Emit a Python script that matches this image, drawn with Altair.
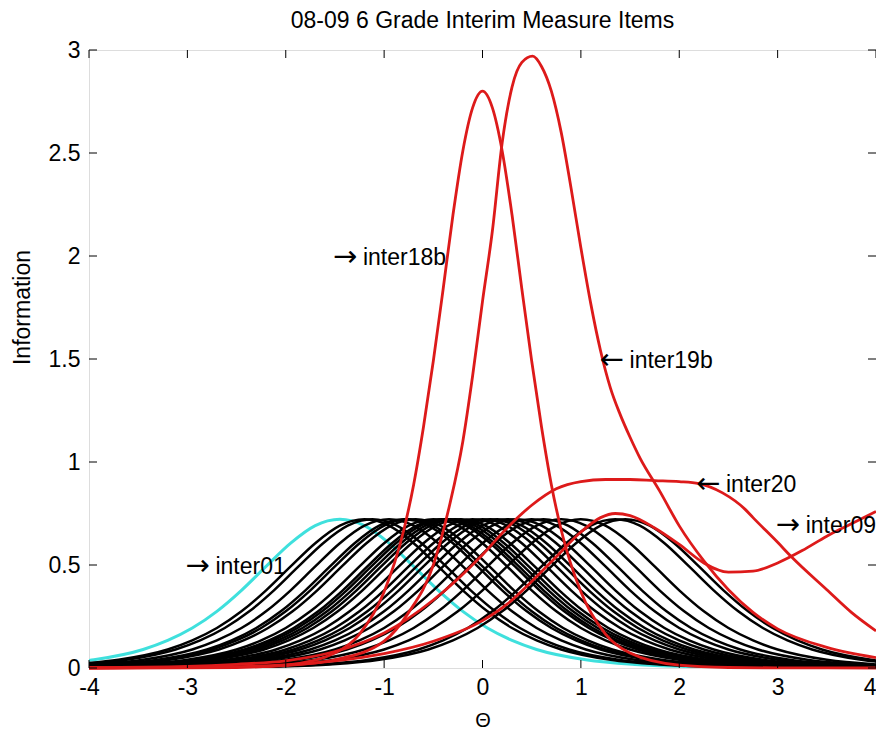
import altair as alt
import pandas as pd

# ---------------- data ----------------
X_TICKS = [-4, -3, -2, -1, 0, 1, 2, 3, 4]
Y_TICKS = [0, 0.5, 1, 1.5, 2, 2.5, 3]

# shape of a single black / cyan item-information curve
BELL_OFFSETS = [-6, -5, -4, -3.5, -3, -2.5, -2, -1.75, -1.5, -1.25, -1, -0.75, -0.5, -0.25, -0.125,
                0, 0.125, 0.25, 0.5, 0.75, 1, 1.25, 1.5, 1.75, 2, 2.5, 3, 3.5, 4, 5, 6]
BELL_INFO = [0.0001, 0.0006, 0.0032, 0.0075, 0.0175, 0.040, 0.090, 0.134, 0.194, 0.275, 0.377, 0.493, 0.606, 0.691, 0.714,
             0.7225, 0.714, 0.691, 0.606, 0.493, 0.377, 0.275, 0.194, 0.134, 0.090, 0.040, 0.0175, 0.0075, 0.0032, 0.0006, 0.0001]

# peak locations of the black curves
BLACK_CENTERS = [-1.2, -1.12, -0.95, -0.8, -0.75, -0.68, -0.5, -0.42, -0.38, -0.33, -0.28, -0.22,
                 -0.1, 0.0, 0.08, 0.15, 0.25, 0.35, 0.5, 0.62, 0.8, 1.0, 1.35, 1.45]
CYAN_CENTER = -1.45

I18B_X = [-4, -3, -2.5, -2, -1.5, -1.25, -1.0, -0.8, -0.7, -0.6, -0.5, -0.4, -0.3, -0.2, -0.1, 0,
          0.1, 0.2, 0.3, 0.4, 0.5, 0.6, 0.7, 0.8, 1.0, 1.25, 1.5, 2, 2.5, 3, 4]
I18B_Y = [0.0, 0.0005, 0.0025, 0.014, 0.073, 0.165, 0.37, 0.67, 0.89, 1.17, 1.49, 1.84, 2.20, 2.51, 2.72, 2.80,
          2.72, 2.51, 2.20, 1.84, 1.49, 1.17, 0.89, 0.67, 0.37, 0.165, 0.073, 0.014, 0.0025, 0.0005, 0.0]

I19B_X = [-4, -3, -2.5, -2, -1.5, -1.0, -0.75, -0.5, -0.33, -0.2, -0.1, 0.0, 0.1, 0.2, 0.3, 0.4, 0.51,
          0.6, 0.7, 0.8, 0.9, 1.0, 1.1, 1.2, 1.3, 1.4, 1.5, 1.6, 1.8, 2.0, 2.25, 2.5, 2.75, 3.0, 3.5, 4.0]
I19B_Y = [0.0, 0.002, 0.005, 0.012, 0.04, 0.13, 0.27, 0.5, 0.8, 1.1, 1.42, 1.78, 2.12, 2.55, 2.82, 2.94, 2.97,
          2.92, 2.8, 2.6, 2.33, 2.04, 1.77, 1.54, 1.36, 1.23, 1.12, 1.02, 0.86, 0.69, 0.52, 0.38, 0.27, 0.19, 0.1, 0.05]

I20_X = [-4, -3, -2.5, -2, -1.5, -1.0, -0.5, 0.0, 0.25, 0.5, 0.75, 1.0, 1.25, 1.5, 1.75, 2.0, 2.2,
         2.44, 2.67, 2.75, 3.0, 3.14, 3.5, 3.75, 4.0]
I20_Y = [0.002, 0.008, 0.018, 0.035, 0.08, 0.17, 0.33, 0.55, 0.68, 0.79, 0.87, 0.905, 0.915, 0.915, 0.91, 0.905, 0.895,
         0.85, 0.77, 0.73, 0.61, 0.54, 0.38, 0.27, 0.18]

I09_X = [-4, -3, -2, -1.5, -1.0, -0.5, 0.0, 0.25, 0.5, 0.75, 1.0, 1.2, 1.35, 1.5, 1.75, 2.0, 2.25,
         2.5, 2.75, 3.0, 3.25, 3.5, 3.75, 4.0]
I09_Y = [0.0, 0.003, 0.015, 0.035, 0.07, 0.13, 0.23, 0.31, 0.42, 0.54, 0.66, 0.73, 0.75, 0.74, 0.68, 0.6, 0.51,
         0.465, 0.47, 0.51, 0.57, 0.64, 0.7, 0.76]

LABEL_ARROWS = ["\u2192", "\u2192", "\u2190", "\u2190", "\u2192"]
LABEL_NAMES = ["inter01", "inter18b", "inter19b", "inter20", "inter09"]
LABEL_X = [-3.02, -1.52, 1.19, 2.17, 2.98]
LABEL_Y = [0.49, 1.99, 1.49, 0.89, 0.69]

TITLE = "08-09 6 Grade Interim Measure Items"

# ---------------- build tables ----------------
rows = []
for i, c in enumerate(BLACK_CENTERS):
    for o, v in zip(BELL_OFFSETS, BELL_INFO):
        rows.append({"x": round(c + o, 4), "y": v, "curve": f"b{i}"})
black_df = pd.DataFrame(rows)

cyan_df = pd.DataFrame({"x": [round(CYAN_CENTER + o, 4) for o in BELL_OFFSETS], "y": BELL_INFO, "curve": "inter01"})

red_parts = []
for name, xs_, ys_ in [("inter18b", I18B_X, I18B_Y), ("inter19b", I19B_X, I19B_Y),
                       ("inter20", I20_X, I20_Y), ("inter09", I09_X, I09_Y)]:
    red_parts.append(pd.DataFrame({"x": xs_, "y": ys_, "curve": name}))
red_df = pd.concat(red_parts, ignore_index=True)

lab_df = pd.DataFrame({"x": LABEL_X, "y": LABEL_Y, "a": LABEL_ARROWS, "t": LABEL_NAMES})
xt_df = pd.DataFrame({"x": X_TICKS})
yt_df = pd.DataFrame({"y": Y_TICKS})

# ---------------- chart ----------------
W, H = 787, 618
FONT = "Liberation Sans"

xsc = alt.Scale(domain=[-4, 4], nice=False, zero=False)
ysc = alt.Scale(domain=[0, 3], nice=False, zero=False)

XAX = alt.Axis(values=X_TICKS, labelExpr="'' + datum.value", title="\u0398", grid=False, domain=False,
               ticks=False, labelFontSize=23, labelFont=FONT, labelColor="black", labelPadding=8,
               labelFlush=False,
               labelAlign={"condition": {"test": "datum.value == 4", "value": "right"}, "value": "center"},
               titleFontSize=20, titleFont=FONT, titleFontWeight="normal", titleColor="black",
               titleY=52, titleBaseline="middle")
YAX = alt.Axis(values=Y_TICKS, labelExpr="'' + datum.value", title="Information", grid=False, domain=False,
               ticks=False, labelFontSize=23, labelFont=FONT, labelColor="black", labelPadding=9,
               labelFlush=False,
               titleFontSize=23, titleFont=FONT, titleFontWeight="normal", titleColor="black",
               titleX=-67, titleY=257, titleBaseline="middle", titleAlign="center")

X = alt.X("x:Q", scale=xsc, axis=XAX)
Y = alt.Y("y:Q", scale=ysc, axis=YAX)

cyan = alt.Chart(cyan_df).mark_line(clip=True, interpolate="monotone", color="#3fe0dd", strokeWidth=3).encode(
    x=X, y=Y, detail="curve:N")
black = alt.Chart(black_df).mark_line(clip=True, interpolate="monotone", color="black", strokeWidth=2.5).encode(
    x=X, y=Y, detail="curve:N")
red = alt.Chart(red_df).mark_line(clip=False, interpolate="monotone", color="#dd1a1a", strokeWidth=2.8).encode(
    x=X, y=Y, detail="curve:N")

arrows = alt.Chart(lab_df).mark_text(clip=True, align="left", baseline="middle", fontSize=29, font="DejaVu Sans",
                                     color="black", dy=-1).encode(x=X, y=Y, text="a:N")
names = alt.Chart(lab_df).mark_text(clip=True, align="left", baseline="middle", fontSize=23, font=FONT,
                                    color="black", dx=30).encode(x=X, y=Y, text="t:N")

tick_bottom = alt.Chart(xt_df).mark_rule(color="black", strokeWidth=1).encode(
    x=X, y=alt.value(H), y2=alt.value(H - 8))
tick_top = alt.Chart(xt_df).mark_rule(color="black", strokeWidth=1).encode(
    x=X, y=alt.value(0), y2=alt.value(8))
tick_left = alt.Chart(yt_df).mark_rule(color="black", strokeWidth=1).encode(
    y=Y, x=alt.value(0), x2=alt.value(8))
tick_right = alt.Chart(yt_df).mark_rule(color="black", strokeWidth=1).encode(
    y=Y, x=alt.value(W), x2=alt.value(W - 8))

chart = alt.layer(cyan, black, red, arrows, names, tick_bottom, tick_top, tick_left, tick_right).properties(
    width=W, height=H,
    title=alt.Title(TITLE, fontSize=23, font=FONT, fontWeight="normal", color="black", anchor="middle", offset=6),
    autosize="none",
    padding={"left": 81, "top": 42, "right": 0, "bottom": 62},
).configure_view(stroke="black", strokeWidth=1).configure(background="white")

chart.save("out.html", embed_options={"renderer": "svg", "actions": False})
